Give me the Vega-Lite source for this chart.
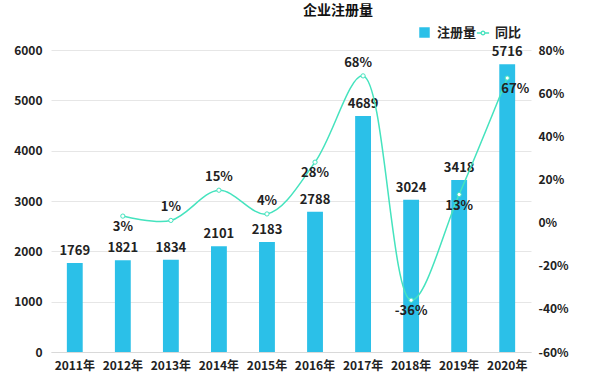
{
  "$schema": "https://vega.github.io/schema/vega-lite/v6.json",
  "width": 480,
  "height": 302,
  "autosize": "none",
  "padding": {"left": 51, "top": 50, "right": 81, "bottom": 34},
  "background": "white",
  "title": {"text": "企业注册量", "font": "Noto Sans CJK SC", "fontSize": 14, "fontWeight": "bold", "color": "#111", "offset": 8, "dx": 47},
  "config": {
    "font": "Noto Sans CJK SC",
    "view": {"stroke": null},
    "locale": {"number": {"decimal": ".", "thousands": "", "grouping": [3], "currency": ["", ""], "minus": "-", "percent": "%"}},
    "legend": {"labelFont": "Noto Sans CJK SC", "labelFontSize": 13, "labelFontWeight": "bold", "labelColor": "#222"}
  },
  "data": {"values": [
    {"year": "2011年", "count": 1769, "growth": null},
    {"year": "2012年", "count": 1821, "growth": 0.03},
    {"year": "2013年", "count": 1834, "growth": 0.01},
    {"year": "2014年", "count": 2101, "growth": 0.15},
    {"year": "2015年", "count": 2183, "growth": 0.04},
    {"year": "2016年", "count": 2788, "growth": 0.28},
    {"year": "2017年", "count": 4689, "growth": 0.68},
    {"year": "2018年", "count": 3024, "growth": -0.36},
    {"year": "2019年", "count": 3418, "growth": 0.13},
    {"year": "2020年", "count": 5716, "growth": 0.67}
  ]},
  "encoding": {
    "x": {"field": "year", "type": "ordinal", "sort": null, "scale": {"paddingInner": 0.67, "paddingOuter": 0.33},
      "axis": {"title": null, "labelAngle": 0, "labelFontSize": 12, "labelFontWeight": "bold", "labelColor": "#222", "ticks": false, "domainColor": "#d9d9d9", "labelPadding": 8}}
  },
  "layer": [
    {
      "layer": [
        {
          "mark": {"type": "bar", "color": "#2BC0E8"},
          "encoding": {
            "y": {"field": "count", "type": "quantitative", "scale": {"domain": [0, 6000]},
              "axis": {"title": null, "format": "d", "values": [0, 1000, 2000, 3000, 4000, 5000, 6000], "labelFontSize": 12, "labelFontWeight": "bold", "labelColor": "#222", "ticks": false, "domain": false, "gridColor": "#e6e6e6", "labelPadding": 9}},
            "fill": {"datum": "注册量", "type": "nominal", "scale": {"domain": ["注册量"], "range": ["#2BC0E8"]},
              "legend": {"title": null, "orient": "none", "symbolType": "square", "symbolSize": 110, "labelOffset": 6, "legendX": 367, "legendY": -24}}
          }
        },
        {
          "mark": {"type": "text", "baseline": "bottom", "dy": -5, "fontSize": 13, "fontWeight": "bold", "color": "#222"},
          "encoding": {
            "y": {"field": "count", "type": "quantitative"},
            "text": {"field": "count", "type": "quantitative", "format": "d"}
          }
        }
      ]
    },
    {
      "transform": [{"filter": "datum.growth != null"}],
      "layer": [
        {
          "mark": {"type": "line", "interpolate": "catmull-rom", "strokeWidth": 1.5},
          "encoding": {
            "y": {"field": "growth", "type": "quantitative", "scale": {"domain": [-0.6, 0.8]},
              "axis": {"title": null, "orient": "right", "values": [-0.6, -0.4, -0.2, 0, 0.2, 0.4, 0.6, 0.8], "format": ".0%", "labelFontSize": 12, "labelFontWeight": "bold", "labelColor": "#222", "ticks": false, "domain": false, "grid": false, "labelPadding": 7}},
            "stroke": {"datum": "同比", "type": "nominal", "scale": {"domain": ["同比"], "range": ["#45E3BE"]},
              "legend": {"title": null, "orient": "none", "symbolType": "M-1,0H-0.3M0.3,0H1M0.3,0A0.3,0.3 0 1,1 -0.3,0A0.3,0.3 0 1,1 0.3,0Z", "symbolFillColor": "white", "symbolStrokeWidth": 1.3, "symbolSize": 150, "labelOffset": 5, "legendX": 425, "legendY": -24}}
          }
        },
        {
          "mark": {"type": "point", "filled": true, "fill": "white", "stroke": "#45E3BE", "strokeWidth": 1, "size": 18, "opacity": 1},
          "encoding": {"y": {"field": "growth", "type": "quantitative"}}
        },
        {
          "transform": [{"filter": "indexof(['2013年','2014年','2015年'], datum.year) >= 0"}],
          "mark": {"type": "text", "baseline": "bottom", "dy": -6, "fontSize": 13, "fontWeight": "bold", "color": "#222"},
          "encoding": {
            "y": {"field": "growth", "type": "quantitative"},
            "text": {"field": "growth", "type": "quantitative", "format": ".0%"}
          }
        },
        {
          "transform": [{"filter": "datum.year == '2017年'"}],
          "mark": {"type": "text", "baseline": "bottom", "dy": -6, "dx": -5, "fontSize": 13, "fontWeight": "bold", "color": "#222"},
          "encoding": {
            "y": {"field": "growth", "type": "quantitative"},
            "text": {"field": "growth", "type": "quantitative", "format": ".0%"}
          }
        },
        {
          "transform": [{"filter": "indexof(['2012年','2016年','2018年','2019年'], datum.year) >= 0"}],
          "mark": {"type": "text", "baseline": "top", "dy": 5, "fontSize": 13, "fontWeight": "bold", "color": "#222"},
          "encoding": {
            "y": {"field": "growth", "type": "quantitative"},
            "text": {"field": "growth", "type": "quantitative", "format": ".0%"}
          }
        },
        {
          "transform": [{"filter": "datum.year == '2020年'"}],
          "mark": {"type": "text", "baseline": "top", "dy": 5, "dx": 8, "fontSize": 13, "fontWeight": "bold", "color": "#222"},
          "encoding": {
            "y": {"field": "growth", "type": "quantitative"},
            "text": {"field": "growth", "type": "quantitative", "format": ".0%"}
          }
        }
      ]
    }
  ],
  "resolve": {"scale": {"y": "independent", "fill": "independent", "stroke": "independent"}}
}
